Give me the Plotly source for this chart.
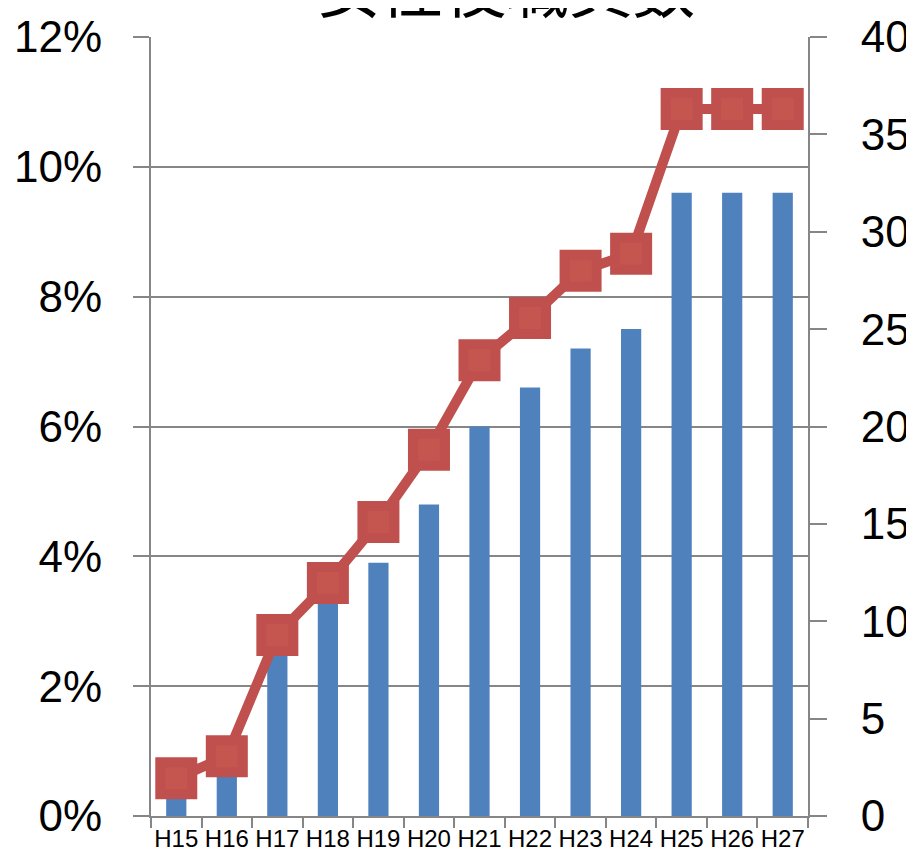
import plotly.graph_objects as go

categories = ["H15", "H16", "H17", "H18", "H19", "H20", "H21", "H22", "H23", "H24", "H25", "H26", "H27"]
female_staff = [2, 3, 9, 11, 13, 16, 20, 22, 24, 25, 32, 32, 32]
female_ratio = [0.0058, 0.0092, 0.0279, 0.0359, 0.0453, 0.0564, 0.0702, 0.0767, 0.0840, 0.0866, 0.1089, 0.1089, 0.1089]

BAR_COLOR = "#4F81BD"
LINE_COLOR = "#C0504D"
GRID = "#868686"
FONT = "Liberation Sans, Arial, sans-serif"

fig = go.Figure()
fig.add_trace(go.Bar(
    x=categories, y=female_staff, name="女性役職員数",
    marker=dict(color=BAR_COLOR, line=dict(width=0)),
    width=0.4, yaxis="y", showlegend=True,
))
fig.add_trace(go.Scatter(
    x=categories, y=female_ratio, name="女性比率",
    mode="lines+markers", yaxis="y2",
    line=dict(color=LINE_COLOR, width=10),
    marker=dict(symbol="square", size=32, color="#C4554F",
                line=dict(color=LINE_COLOR, width=10)),
    showlegend=False,
))

fig.update_layout(
    width=906, height=852,
    margin=dict(l=143, r=106, t=29, b=44, autoexpand=False),
    paper_bgcolor="white", plot_bgcolor="white",
    font=dict(family=FONT, color="black"),
    showlegend=True,
    legend=dict(
        x=0.192, y=1.063, xanchor="left", yanchor="middle",
        orientation="h",
        font=dict(family="Noto Sans CJK JP", size=63, color="black"),
        bgcolor="rgba(0,0,0,0)",
    ),
    xaxis=dict(
        type="category", range=[-0.5, 12.5],
        showline=True, linecolor=GRID, linewidth=2,
        ticks="outside", tickson="boundaries", ticklen=10, tickcolor=GRID, tickwidth=2,
        tickangle=0,
        tickfont=dict(size=24, family=FONT, color="black"),
        showgrid=False, zeroline=False,
    ),
    yaxis=dict(
        side="right", range=[0, 40], dtick=5,
        showline=True, linecolor=GRID, linewidth=2,
        ticks="outside", ticklen=17, tickcolor=GRID, tickwidth=2,
        tickfont=dict(size=44, family=FONT, color="black"),
        ticklabelstandoff=25,
        showgrid=False, zeroline=False,
    ),
    yaxis2=dict(
        side="left", overlaying="y", range=[0, 0.12], dtick=0.02, tickformat=".0%",
        showline=True, linecolor=GRID, linewidth=2,
        ticks="outside", ticklen=16, tickcolor=GRID, tickwidth=2,
        tickfont=dict(size=44, family=FONT, color="black"),
        ticklabelstandoff=22,
        showgrid=True, gridcolor=GRID, gridwidth=2, zeroline=False,
    ),
)

fig.write_html("out.html")
